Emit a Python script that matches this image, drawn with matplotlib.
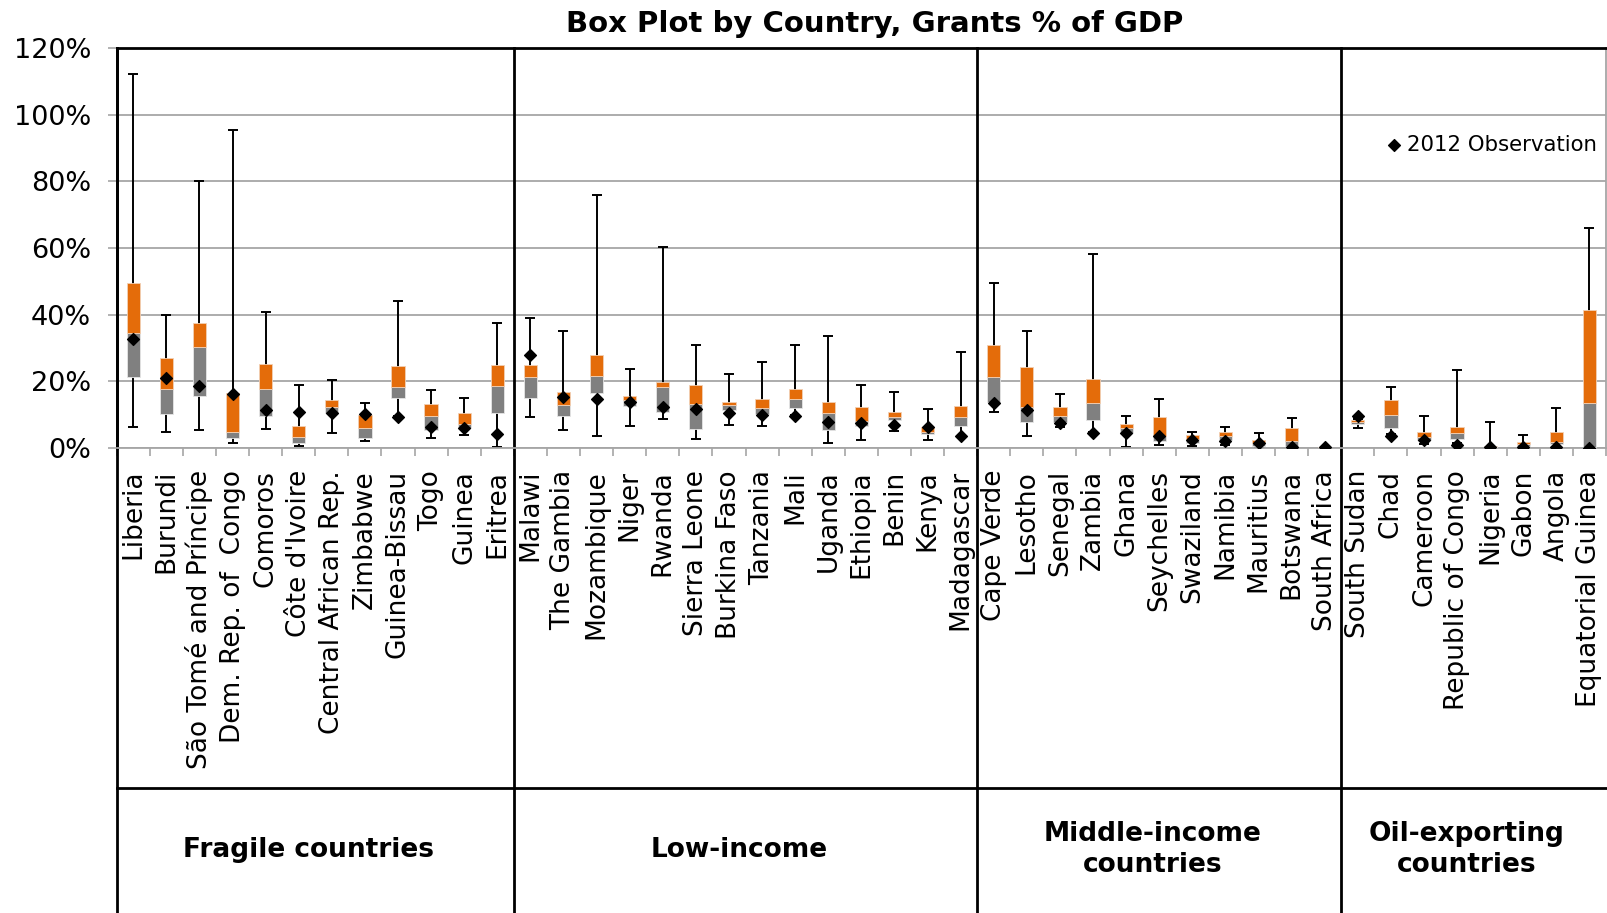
import numpy as np
import matplotlib.pyplot as plt
from matplotlib.ticker import PercentFormatter
from matplotlib.transforms import blended_transform_factory

plt.rcParams['font.family'] = ['DejaVu Sans']

# country groups (in chart order)
groups = ["Fragile countries", "Low-income", "Middle-income\ncountries",
          "Oil-exporting\ncountries"]
group_sizes = [12, 14, 11, 8]

countries = [
    "Liberia", "Burundi", "São Tomé and Príncipe", "Dem. Rep. of  Congo",
    "Comoros", "Côte d'Ivoire", "Central African Rep.", "Zimbabwe",
    "Guinea-Bissau", "Togo", "Guinea", "Eritrea",
    "Malawi", "The Gambia", "Mozambique", "Niger", "Rwanda", "Sierra Leone",
    "Burkina Faso", "Tanzania", "Mali", "Uganda", "Ethiopia", "Benin",
    "Kenya", "Madagascar",
    "Cape Verde", "Lesotho", "Senegal", "Zambia", "Ghana", "Seychelles",
    "Swaziland", "Namibia", "Mauritius", "Botswana", "South Africa",
    "South Sudan", "Chad", "Cameroon", "Republic of Congo", "Nigeria",
    "Gabon", "Angola", "Equatorial Guinea",
]

# grants, % of GDP
whisker_lo = [6.3, 4.6, 5.3, 1.4, 5.7, 0.5, 4.5, 2.1, 9.5, 2.9, 3.8, 0.2,
              9.3, 5.3, 3.4, 6.5, 8.5, 2.6, 6.7, 6.5, 9.8, 1.5, 2.3, 5.0, 2.2, 3.5,
              10.6, 3.6, 6.3, 4.8, 0.2, 0.8, 0.6, 0.8, 0.3, 0.3, 0.0,
              6.0, 4.0, 1.2, 1.3, 0.2, 0.3, 0.3, 0.2]
q1 = [21.2, 10.2, 15.4, 2.9, 9.5, 1.5, 10.3, 2.9, 14.9, 5.3, 5.8, 10.3,
      14.9, 9.6, 16.5, 12.4, 10.6, 5.7, 11.4, 10.2, 12.0, 5.2, 6.5, 8.2, 4.0, 6.4,
      13.8, 7.8, 7.8, 8.3, 4.5, 2.0, 1.5, 2.3, 0.5, 0.6, 0.0,
      7.0, 5.8, 2.3, 2.7, 0.2, 0.5, 1.1, 0.3]
median = [34.4, 17.6, 30.2, 4.8, 17.6, 3.3, 12.1, 5.8, 18.3, 9.6, 7.2, 18.5,
          21.3, 12.7, 21.6, 14.4, 18.2, 13.0, 12.7, 11.8, 14.7, 10.3, 8.1, 9.3, 4.7, 9.3,
          21.3, 12.1, 9.5, 13.5, 5.9, 3.5, 2.5, 3.6, 1.3, 2.1, 0.1,
          7.7, 9.9, 3.3, 4.3, 0.4, 1.0, 1.7, 13.5]
q3 = [49.5, 27.1, 37.6, 16.3, 25.3, 6.6, 14.2, 9.7, 24.6, 13.1, 10.3, 24.8,
      24.8, 16.8, 28.0, 15.6, 19.6, 18.9, 13.8, 14.5, 17.5, 13.6, 12.2, 10.7, 6.2, 12.6,
      30.9, 24.4, 12.1, 20.5, 7.0, 9.3, 3.7, 4.7, 2.4, 6.0, 0.2,
      8.4, 14.2, 4.6, 6.2, 0.6, 1.7, 4.7, 41.5]
whisker_hi = [112.4, 39.8, 80.0, 95.5, 40.8, 18.9, 20.3, 13.4, 44.0, 17.4, 14.8, 37.6,
              39.1, 35.1, 76.0, 23.7, 60.2, 30.8, 22.3, 25.7, 30.8, 33.7, 18.9, 16.6, 11.6, 28.8,
              49.5, 35.2, 16.2, 58.2, 9.5, 14.5, 4.8, 6.2, 4.4, 9.0, 0.2,
              8.6, 18.1, 9.4, 23.3, 7.7, 3.7, 11.8, 66.0]
obs_2012 = [32.8, 20.8, 18.4, 16.2, 11.4, 10.6, 10.5, 10.1, 9.3, 6.3, 6.0, 4.1,
            28.0, 15.2, 14.6, 13.6, 12.3, 11.5, 10.4, 9.9, 9.4, 7.7, 7.5, 6.7, 6.3, 3.5,
            13.4, 11.4, 7.5, 4.5, 4.4, 3.4, 2.3, 1.9, 1.3, 0.3, 0.2,
            9.5, 3.6, 2.3, 0.9, 0.3, 0.3, 0.2, 0.0]

ORANGE = "#E46C0A"
GREY = "#808080"
GRID = "#a6a6a6"

x = np.arange(len(countries))
lo = np.array(whisker_lo)
hi = np.array(whisker_hi)
b1 = np.array(q1)
md = np.array(median)
b3 = np.array(q3)

fig = plt.figure(figsize=(16.07, 9.13), dpi=100)
ax = fig.add_axes([0.0726, 0.5096, 0.9268, 0.4375])

# whiskers behind the boxes
ax.errorbar(x, md, yerr=[md - lo, hi - md], fmt="none", ecolor="black",
            elinewidth=1.4, capsize=3.8, capthick=1.4, zorder=2)
ax.bar(x, md - b1, bottom=b1, width=0.4, color=GREY,
       edgecolor="#e6e6e6", linewidth=0.6, zorder=3)
ax.bar(x, b3 - md, bottom=md, width=0.4, color=ORANGE,
       edgecolor="#f2d0b4", linewidth=0.6, zorder=3)
ax.scatter(x, obs_2012, marker="D", s=36, color="black", zorder=4,
           label="2012 Observation")

ax.set_xlim(-0.5, len(countries) - 0.5)
ax.set_ylim(0, 120)
ax.set_yticks(np.arange(0, 121, 20))
ax.yaxis.set_major_formatter(PercentFormatter(xmax=100, decimals=0))
ax.yaxis.grid(True, color=GRID, linewidth=1.3)
ax.set_axisbelow(True)

ax.set_xticks(x)
ax.set_xticklabels(countries, rotation=90, va="top", ha="center")
ax.set_xticks(np.arange(-0.5, len(countries), 1), minor=True)
ax.tick_params(axis="x", which="major", length=0, labelsize=19, pad=16)
ax.tick_params(axis="x", which="minor", length=6, color=GRID, width=1.2)
ax.tick_params(axis="y", length=6.5, color=GRID, width=1.2, labelsize=19.5, pad=12)

for side in ["top", "left"]:
    ax.spines[side].set_color("black")
    ax.spines[side].set_linewidth(2)
for side in ["bottom", "right"]:
    ax.spines[side].set_color(GRID)
    ax.spines[side].set_linewidth(1.3)

# group dividers and group captions below the axis
trans = blended_transform_factory(ax.transData, ax.transAxes)
y_bottom = -1.17
y_rule = -0.852
ax.plot([0, 0], [1, y_bottom], transform=ax.transAxes, color="black",
        lw=2, clip_on=False)
ax.plot([0, 1], [y_rule, y_rule], transform=ax.transAxes, color="black",
        lw=2, clip_on=False)
edges = np.cumsum([0] + group_sizes) - 0.5
for e in edges[1:-1]:
    ax.plot([e, e], [1, y_bottom], transform=trans, color="black",
            lw=2, clip_on=False)
for name, a, b in zip(groups, edges[:-1], edges[1:]):
    ax.text((a + b) / 2 - 0.2, -1.006, name, transform=trans, ha="center",
            va="center", fontsize=19, fontweight="bold", linespacing=1.25)

ax.legend(loc="center right", bbox_to_anchor=(1.0, 0.758), frameon=False,
          fontsize=15.3, handletextpad=0.2, handlelength=0.8, borderaxespad=0.05)

fig.text(875 / 1607, 1 - 24 / 913, "Box Plot by Country, Grants % of GDP",
         ha="center", va="center", fontsize=21, fontweight="bold")

fig.savefig("out.png", dpi=100)
